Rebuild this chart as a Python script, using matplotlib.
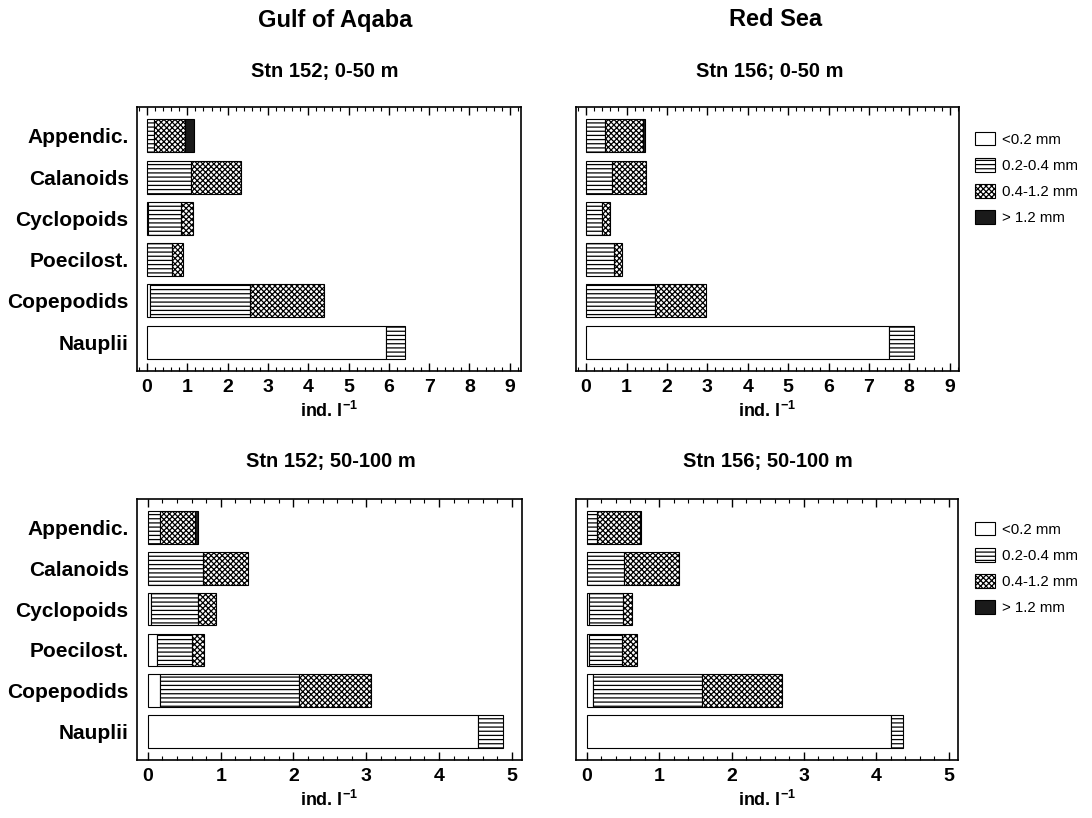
import matplotlib
matplotlib.use("Agg")
import matplotlib.pyplot as plt
from matplotlib.patches import Patch
from matplotlib.ticker import MultipleLocator

plt.rcParams['font.family'] = ['Liberation Sans', 'DejaVu Sans']
plt.rcParams['mathtext.fontset'] = 'custom'
plt.rcParams['mathtext.rm'] = 'Liberation Sans:bold'
plt.rcParams['mathtext.bf'] = 'Liberation Sans:bold'
plt.rcParams['hatch.linewidth'] = 0.9
plt.rcParams['hatch.color'] = 'black'

categories = ["Appendic.", "Calanoids", "Cyclopoids", "Poecilost.", "Copepodids", "Nauplii"]
size_classes = ["<0.2 mm", "0.2-0.4 mm", "0.4-1.2 mm", "> 1.2 mm"]

# widths per size class (<0.2, 0.2-0.4, 0.4-1.2, >1.2), ind. l^-1
stn152_0_50_lt02 = [0.00, 0.00, 0.02, 0.00, 0.07, 5.92]
stn152_0_50_02_04 = [0.18, 1.10, 0.82, 0.63, 2.49, 0.47]
stn152_0_50_04_12 = [0.77, 1.23, 0.29, 0.27, 1.84, 0.00]
stn152_0_50_gt12 = [0.22, 0.00, 0.00, 0.00, 0.00, 0.00]

stn156_0_50_lt02 = [0.00, 0.00, 0.00, 0.00, 0.00, 7.50]
stn156_0_50_02_04 = [0.47, 0.65, 0.39, 0.70, 1.71, 0.62]
stn156_0_50_04_12 = [0.93, 0.83, 0.20, 0.18, 1.27, 0.00]
stn156_0_50_gt12 = [0.05, 0.00, 0.00, 0.00, 0.00, 0.00]

stn152_50_100_lt02 = [0.00, 0.00, 0.04, 0.13, 0.17, 4.53]
stn152_50_100_02_04 = [0.165, 0.75, 0.65, 0.48, 1.90, 0.35]
stn152_50_100_04_12 = [0.485, 0.62, 0.24, 0.16, 1.00, 0.00]
stn152_50_100_gt12 = [0.04, 0.00, 0.00, 0.00, 0.00, 0.00]

stn156_50_100_lt02 = [0.00, 0.00, 0.03, 0.03, 0.09, 4.20]
stn156_50_100_02_04 = [0.14, 0.52, 0.47, 0.46, 1.50, 0.17]
stn156_50_100_04_12 = [0.59, 0.76, 0.13, 0.21, 1.11, 0.00]
stn156_50_100_gt12 = [0.02, 0.00, 0.00, 0.00, 0.00, 0.00]

styles = [
    dict(facecolor='white', hatch=None),
    dict(facecolor='white', hatch='----'),
    dict(facecolor='white', hatch='xxxxxx'),
    dict(facecolor='#1a1a1a', hatch=None),
]

W, H = 1092, 818
fig = plt.figure(figsize=(W / 100, H / 100), dpi=100)


def add_ax(x0, y0, x1, y1):
    return fig.add_axes([x0 / W, 1 - y1 / H, (x1 - x0) / W, (y1 - y0) / H])


panels = [
    (add_ax(137, 107, 521, 371), [stn152_0_50_lt02, stn152_0_50_02_04, stn152_0_50_04_12, stn152_0_50_gt12],
     (-0.25, 9.28), list(range(10)), True),
    (add_ax(576, 107, 959, 371), [stn156_0_50_lt02, stn156_0_50_02_04, stn156_0_50_04_12, stn156_0_50_gt12],
     (-0.25, 9.23), list(range(10)), False),
    (add_ax(137, 499, 522, 760), [stn152_50_100_lt02, stn152_50_100_02_04, stn152_50_100_04_12, stn152_50_100_gt12],
     (-0.15, 5.14), list(range(6)), True),
    (add_ax(576, 499, 958, 760), [stn156_50_100_lt02, stn156_50_100_02_04, stn156_50_100_04_12, stn156_50_100_gt12],
     (-0.15, 5.13), list(range(6)), False),
]

ypos = list(range(len(categories)))
for ax, series, xlim, ticks, show_y in panels:
    left = [0.0] * len(categories)
    for vals, st in zip(series, styles):
        for i, v in enumerate(vals):
            if v > 0:
                ax.barh(ypos[i], v, left=left[i], height=0.8, facecolor=st['facecolor'],
                        hatch=st['hatch'], edgecolor='black', linewidth=0.8)
            left[i] += v
    ax.set_xlim(*xlim)
    ax.set_ylim(5.7, -0.7)
    ax.set_xticks(ticks)
    ax.xaxis.set_minor_locator(MultipleLocator(0.2))
    ax.tick_params(axis='x', which='major', direction='in', length=6, width=1,
                   top=True, bottom=True, labelsize=14, pad=6)
    ax.tick_params(axis='x', which='minor', direction='in', length=3, width=0.8,
                   top=True, bottom=True)
    for lab in ax.get_xticklabels():
        lab.set_fontweight('bold')
    ax.set_yticks(ypos)
    if show_y:
        ax.set_yticklabels(categories, fontsize=15, fontweight='bold')
    else:
        ax.set_yticklabels([])
    ax.tick_params(axis='y', length=0, pad=6)
    for sp in ax.spines.values():
        sp.set_linewidth(1.2)
    ax.set_xlabel(r'ind. l$^{-1}$', fontsize=13, fontweight='bold', labelpad=3)

# titles
fig.text(335 / W, 1 - 20 / H, "Gulf of Aqaba", ha='center', va='center', fontsize=17, fontweight='bold')
fig.text(776 / W, 1 - 20 / H, "Red Sea", ha='center', va='center', fontsize=17, fontweight='bold')
fig.text(325 / W, 1 - 72 / H, "Stn 152; 0-50 m", ha='center', va='center', fontsize=14.5, fontweight='bold')
fig.text(770 / W, 1 - 72 / H, "Stn 156; 0-50 m", ha='center', va='center', fontsize=14.5, fontweight='bold')
fig.text(331 / W, 1 - 462 / H, "Stn 152; 50-100 m", ha='center', va='center', fontsize=14.5, fontweight='bold')
fig.text(768 / W, 1 - 462 / H, "Stn 156; 50-100 m", ha='center', va='center', fontsize=14.5, fontweight='bold')

handles = [Patch(facecolor=st['facecolor'], hatch=st['hatch'], edgecolor='black', linewidth=0.8)
           for st in styles]
for ytop in (132, 522):
    fig.legend(handles, size_classes, loc='upper left', bbox_to_anchor=(975 / W, 1 - ytop / H),
               frameon=False, fontsize=10.8, handlelength=1.3, handleheight=1.0,
               handletextpad=0.5, labelspacing=0.75, borderpad=0, borderaxespad=0)

fig.savefig("out.png", dpi=100)
